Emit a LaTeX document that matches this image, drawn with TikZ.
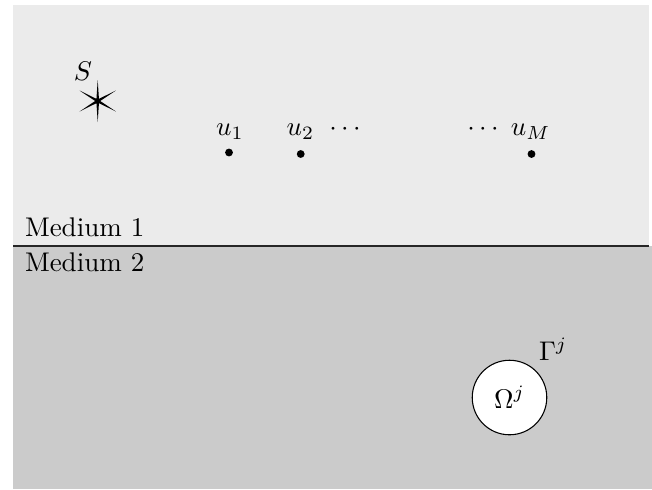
\documentclass[tikz,border=0pt]{standalone}
\usetikzlibrary{calc}
\definecolor{mediumone}{HTML}{EBEBEB}
\definecolor{mediumtwo}{HTML}{CBCBCB}
\tikzset{
  lbl/.style={inner sep=0pt, outer sep=0pt},
  receiver/.style={circle, fill=black, inner sep=0pt, minimum size=2.9pt},
  obstacle/.style={circle, draw=black, fill=white, line width=0.4pt, minimum size=27.6pt, inner sep=0pt},
}
\begin{document}
\begin{tikzpicture}[x=0.37037pt, y=-0.37037pt]
  \useasboundingbox (0,0) rectangle (652,489);
  % media
  \fill[mediumone] (13,5) rectangle (649,246);
  \fill[mediumtwo] (13,246) rectangle (652,489);
  \coordinate (ifl) at (13,246);
  \coordinate (ifr) at (649,246);
  \draw[line width=0.7pt, black!85] (ifl) -- (ifr);
  \node[lbl, anchor=base west] (m1) at (25,236.7) {Medium 1};
  \node[lbl, anchor=base west] (m2) at (25,271.7) {Medium 2};
  % source
  \coordinate (S) at (97.7,101);
  \fill (S) ++(90:21)
    \foreach \k in {1,...,11} { -- ($(S)+({90+30*\k}:{ifthenelse(isodd(\k),2.5,21)})$) } -- cycle;
  \node[lbl, anchor=base] (Slbl) at (83,80.5) {$S$};
  % receivers
  \node[receiver] (u1) at (229,152.5) {};
  \node[receiver] (u2) at (300.7,154) {};
  \node[receiver] (uM) at (531.5,154) {};
  \node[lbl, anchor=base] (u1l) at (230,135.7) {$u_1$};
  \node[lbl, anchor=base] (u2l) at (300.5,135.7) {$u_2$};
  \node[lbl, anchor=base] (d1) at (345,135.7) {$\cdots$};
  \node[lbl, anchor=base] (d2) at (483,135.7) {$\cdots$};
  \node[lbl, anchor=base] (uMl) at (530.5,135.7) {$u_M$};
  % obstacle
  \node[obstacle] (Om) at (509.5,397.5) {$\Omega^j$};
  \node[lbl, anchor=base west] (Gm) at (539,360) {$\Gamma^j$};
\end{tikzpicture}
\end{document}
